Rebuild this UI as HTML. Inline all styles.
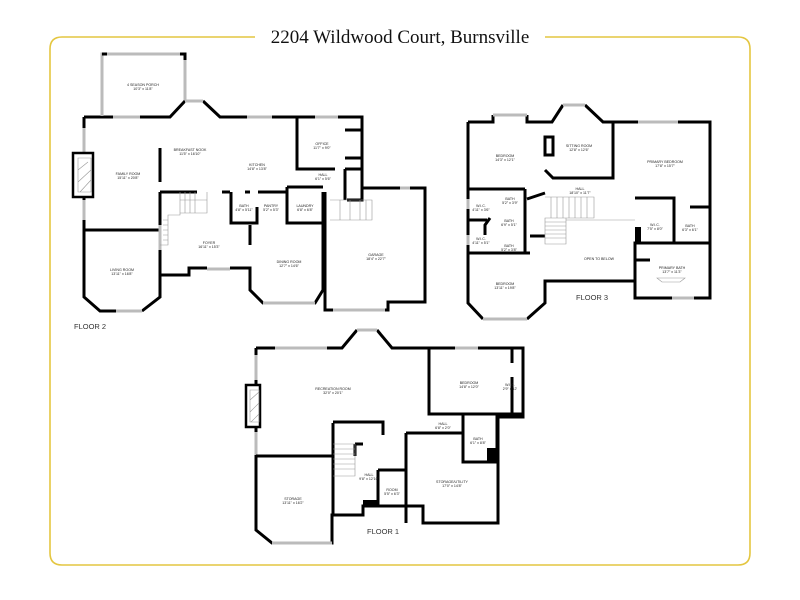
<!DOCTYPE html>
<html><head><meta charset="utf-8"><style>
html,body{margin:0;padding:0;background:#fff;}
svg{display:block}
.w{fill:none;stroke:#000;stroke-width:3;stroke-linejoin:miter}
.t{fill:none;stroke:#000;stroke-width:1.5}
.g{fill:none;stroke:#bbb;stroke-width:3}
.s{fill:none;stroke:#999;stroke-width:0.6}
text{font-family:"Liberation Sans",sans-serif;fill:#222}
.l{font-size:3.6px;text-anchor:middle}
.f{font-size:7.5px;fill:#333}
</style></head><body>
<svg width="800" height="600" viewBox="0 0 800 600">
<rect x="0" y="0" width="800" height="600" fill="#fff"/>
<path d="M255 37 H62 Q50 37 50 49 V553 Q50 565 62 565 H738 Q750 565 750 553 V49 Q750 37 738 37 H545" fill="none" stroke="#e4c640" stroke-width="1.6"/>
<text x="400" y="43" text-anchor="middle" style="font-family:'Liberation Serif',serif;font-size:19px;fill:#111">2204 Wildwood Court, Burnsville</text>

<!-- FLOOR 2 -->
<path class="g" d="M102 112 V54 H185 V102"/>
<path class="w" d="M102 54 H107 M180 54 H185 V60"/>
<path class="w" d="M84 117 H113 M140 117 H170 L185 101 M203 101 L220 117 H247 M272 117 H297 V169 H335 M297 117 H315 M338 117 H362 V200 H347 M362 188 V192 M84 117 V230 V297 L100 311 H116 M142 311 L160 297 V208"/>
<path class="g" d="M113 117 H140 M185 101 H203 M247 117 H272 M315 117 H338 M84 128 V152 M84 200 V220 M116 311 H142 M102 112 V116"/>
<path d="M73 153 H93 V197 H73 Z" fill="#fff" stroke="#000" stroke-width="2.5"/>
<path class="s" d="M78 158 H91 V192 H78 Z M78 170 L88 162 M78 182 L91 170 M80 192 L91 180"/>
<path class="w" d="M84 230 H160 M160 192 H197 M222 192 H230 M245 192 H250 M258 192 H288 M160 192 V208 M160 275 H189 V268 H207 M230 268 H250 V290 L263 303 H315 L323 290 V192 M287 187 H323 M287 187 V223 H323 M231 192 V223 H257 V207 M250 245 V225 M160 148 V182 M345 169 V200 M345 169 H362 M345 130 H362 M345 158 H362"/>
<path class="g" d="M207 269 H230 M263 303 H315 M160 225 V250"/>
<path class="w" d="M362 188 H400 M410 188 H425 V302 H388 V310 H325 V192"/>
<path class="g" d="M333 310 H385 M400 188 H410"/>
<path class="s" d="M180 192 V215 H168 V245 H160 M168 215 V245 M163 220 H168 M163 225 H168 M163 230 H168 M163 235 H168 M163 240 H168 M185 192 V213 M190 192 V213 M195 192 V213 M180 200 H207 M207 192 V213 H180 M330 200 H372 V220 H330 M340 200 V220 M350 200 V220 M360 200 V220 M366 200 V220"/>
<g class="l">
<text x="143" y="86">4 SEASON PORCH</text><text x="143" y="90">10'3" x 11'8"</text>
<text x="190" y="151">BREAKFAST NOOK</text><text x="190" y="155">11'5" x 16'10"</text>
<text x="257" y="166">KITCHEN</text><text x="257" y="170">14'8" x 13'8"</text>
<text x="322" y="145">OFFICE</text><text x="322" y="149">11'7" x 9'0"</text>
<text x="323" y="176">HALL</text><text x="323" y="180">6'1" x 5'6"</text>
<text x="128" y="175">FAMILY ROOM</text><text x="128" y="179">15'11" x 20'8"</text>
<text x="244" y="207">BATH</text><text x="244" y="211">4'8" x 5'11"</text>
<text x="271" y="207">PANTRY</text><text x="271" y="211">5'2" x 5'3"</text>
<text x="305" y="207">LAUNDRY</text><text x="305" y="211">6'8" x 6'8"</text>
<text x="209" y="244">FOYER</text><text x="209" y="248">16'11" x 15'3"</text>
<text x="289" y="263">DINING ROOM</text><text x="289" y="267">12'7" x 14'6"</text>
<text x="376" y="256">GARAGE</text><text x="376" y="260">18'4" x 22'7"</text>
<text x="122" y="271">LIVING ROOM</text><text x="122" y="275">13'11" x 16'8"</text>
</g>
<text class="f" x="74" y="329">FLOOR 2</text>

<!-- FLOOR 3 -->
<path class="w" d="M468 122 H493 V115 M527 115 V122 H552 L563 105 M585 105 L603 122 H638 M678 122 H710 V298 H694 M672 298 H635 V281 H545 V303 L527 319 M483 319 L468 303 V122"/>
<path class="g" d="M493 115 H527 M563 105 H585 M638 122 H678 M672 298 H694 M483 319 H527 M468 199 V209 M468 235 V245"/>
<path class="w" d="M613 122 V178 H553 L545 170 M545 137 H553 V155 H545 Z M468 189 H525 M468 220 H487 M468 253 H530 M525 189 V253 M490 218 L485 225 V235 M530 236 H545 M635 281 V243 H710 M635 198 H674 V243 M690 207 H710 M635 260 H650 M545 193 L527 199"/>
<rect x="635" y="227" width="6" height="16" fill="#000"/>
<path class="s" d="M545 197 H594 V218 H545 M545 218 H566 V244 H545 Z M551 197 V218 M557 197 V218 M563 197 V218 M569 197 V218 M575 197 V218 M581 197 V218 M587 197 V218 M545 222 H566 M545 226 H566 M545 230 H566 M545 234 H566 M545 238 H566 M566 220 H635 M657 278 H685 L680 282 H662 Z"/>
<g class="l">
<text x="505" y="157">BEDROOM</text><text x="505" y="161">14'3" x 12'1"</text>
<text x="579" y="147">SITTING ROOM</text><text x="579" y="151">12'8" x 12'6"</text>
<text x="665" y="163">PRIMARY BEDROOM</text><text x="665" y="167">17'8" x 15'7"</text>
<text x="580" y="190">HALL</text><text x="580" y="194">18'10" x 11'7"</text>
<text x="510" y="200">BATH</text><text x="510" y="204">5'2" x 3'9"</text>
<text x="481" y="207">W.I.C.</text><text x="481" y="211">4'11" x 3'6"</text>
<text x="509" y="222">BATH</text><text x="509" y="226">6'9" x 5'1"</text>
<text x="481" y="240">W.I.C.</text><text x="481" y="244">4'11" x 5'1"</text>
<text x="509" y="247">BATH</text><text x="509" y="251">5'2" x 3'8"</text>
<text x="655" y="226">W.I.C.</text><text x="655" y="230">7'5" x 8'0"</text>
<text x="690" y="227">BATH</text><text x="690" y="231">6'3" x 6'1"</text>
<text x="599" y="260">OPEN TO BELOW</text>
<text x="672" y="269">PRIMARY BATH</text><text x="672" y="273">13'7" x 11'3"</text>
<text x="505" y="285">BEDROOM</text><text x="505" y="289">13'11" x 19'8"</text>
</g>
<text class="f" x="576" y="300">FLOOR 3</text>

<!-- FLOOR 1 -->
<path class="w" d="M256 348 H342 L357 330 M377 330 L392 348 H523 V417 H497 V462 M256 348 V530 L272 543 H332 V515 H363 V506 H423 V523 H498 V417"/>
<path class="g" d="M275 348 H327 M357 330 H377 M455 348 H478 M256 355 V380 M256 432 V455 M272 543 H332"/>
<path d="M246 385 H260 V427 H246 Z" fill="#fff" stroke="#000" stroke-width="2.5"/>
<path class="s" d="M250 390 H259 V422 H250 Z M250 400 L259 392 M250 412 L259 403 M251 422 L259 414"/>
<path class="w" d="M429 348 V414 H523 M512 348 V363 M512 377 V414 M256 456 H332 M333 423 V515 M333 422 H383 V435 M355 445 V446 H355 M355 444 H363 M355 444 V456 M406 433 H463 V462 H497 M406 433 V523 M378 470 V506 M378 470 H406 M463 414 V433"/>
<rect x="487" y="448" width="10" height="14" fill="#000"/>
<rect x="363" y="500" width="14" height="7" fill="#000"/>
<path class="s" d="M333 444 H355 V476 H333 M333 449 H355 M333 454 H355 M333 459 H355 M333 464 H355 M333 469 H355"/>
<g class="l">
<text x="333" y="390">RECREATION ROOM</text><text x="333" y="394">32'0" x 20'1"</text>
<text x="469" y="384">BEDROOM</text><text x="469" y="388">14'8" x 12'0"</text>
<text x="510" y="386">W.I.C.</text><text x="510" y="390">2'9" x 12'</text>
<text x="443" y="425">HALL</text><text x="443" y="429">6'8" x 2'0"</text>
<text x="478" y="440">BATH</text><text x="478" y="444">6'1" x 8'8"</text>
<text x="369" y="476">HALL</text><text x="369" y="480">9'8" x 12'10"</text>
<text x="452" y="483">STORAGE/UTILITY</text><text x="452" y="487">17'0" x 14'8"</text>
<text x="392" y="491">ROOM</text><text x="392" y="495">5'5" x 6'3"</text>
<text x="293" y="500">STORAGE</text><text x="293" y="504">13'11" x 16'2"</text>
</g>
<text class="f" x="367" y="534">FLOOR 1</text>
</svg>
</body></html>
